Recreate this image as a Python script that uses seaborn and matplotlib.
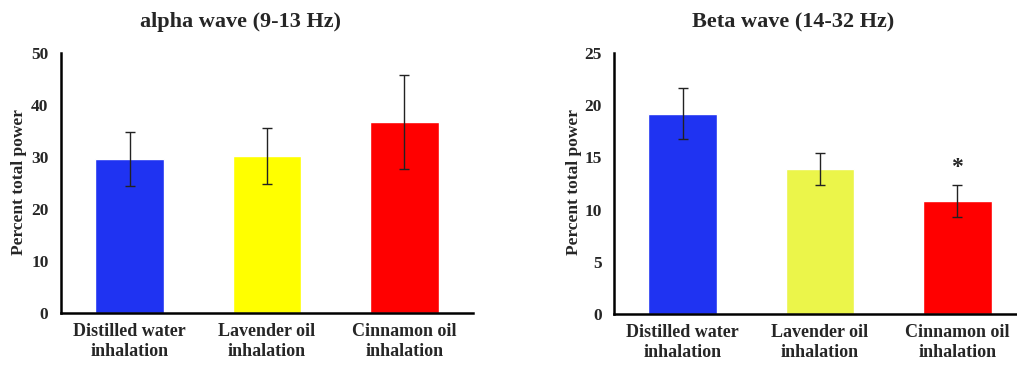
import numpy as np
import pandas as pd
import matplotlib
matplotlib.use("Agg")
import matplotlib.pyplot as plt
import seaborn as sns

sns.set_style("white")
plt.rcParams['font.family'] = ['Liberation Serif', 'DejaVu Serif']

categories = ["Distilled water\ninhalation", "Lavender oil\ninhalation", "Cinnamon oil\ninhalation"]

alpha_mean = [29.6, 30.2, 36.7]
alpha_err = [5.2, 5.3, 9.1]
alpha_colors = ["#1f33f2", "#ffff00", "#ff0000"]

beta_mean = [19.2, 13.9, 10.85]
beta_err = [2.45, 1.5, 1.55]
beta_colors = ["#1f33f2", "#ebf54a", "#ff0000"]
beta_star = ["", "", "*"]


def draw_panel(ax, means, errs, colors, ymax, ystep):
    df = pd.DataFrame({"group": categories, "value": means})
    sns.barplot(data=df, x="group", y="value", hue="group", palette=colors,
                width=0.5, legend=False, ax=ax, saturation=1)
    ax.errorbar(range(len(means)), means, yerr=errs, fmt="none",
                ecolor="#222222", elinewidth=1, capsize=3.5, capthick=1)
    ax.set_xlim(-0.5, 2.5)
    ax.set_ylim(0, ymax)
    ax.set_yticks(np.arange(0, ymax + 1, ystep))
    ax.set_xlabel("")
    ax.set_ylabel("")
    for s in ["top", "right"]:
        ax.spines[s].set_visible(False)
    for s in ["left", "bottom"]:
        ax.spines[s].set_linewidth(1.8)
        ax.spines[s].set_color("black")
    ax.tick_params(axis="y", direction="out", length=5, width=1.5, labelsize=12.5, pad=4)
    ax.tick_params(axis="x", length=0, labelsize=13, pad=7)
    for lab in ax.get_yticklabels():
        lab.set_fontweight("bold")
    for lab in ax.get_xticklabels():
        lab.set_fontweight("bold")
        lab.set_linespacing(1.25)


fig = plt.figure(figsize=(10.17, 3.67), dpi=100)
ax1 = fig.add_axes([61 / 1017, 54 / 367, 412 / 1017, 260 / 367])
ax2 = fig.add_axes([614 / 1017, 53 / 367, 412 / 1017, 261 / 367])

draw_panel(ax1, alpha_mean, alpha_err, alpha_colors, 50, 10)
draw_panel(ax2, beta_mean, beta_err, beta_colors, 25, 5)

for i, s in enumerate(beta_star):
    if s:
        ax2.text(i, beta_mean[i] + beta_err[i] + 0.6, s, ha="center", va="bottom",
                 fontsize=17, fontweight="bold")

fig.text(240 / 1017, 1 - 22 / 367, "alpha wave (9-13 Hz)", ha="center", va="center",
         fontsize=16, fontweight="bold")
fig.text(793 / 1017, 1 - 22 / 367, "Beta wave (14-32 Hz)", ha="center", va="center",
         fontsize=16, fontweight="bold")
fig.text(19 / 1017, 1 - 182 / 367, "Percent total power", rotation=90, ha="center",
         va="center", fontsize=12.5, fontweight="bold")
fig.text(574 / 1017, 1 - 182 / 367, "Percent total power", rotation=90, ha="center",
         va="center", fontsize=12.5, fontweight="bold")

fig.savefig("out.png", dpi=100)
